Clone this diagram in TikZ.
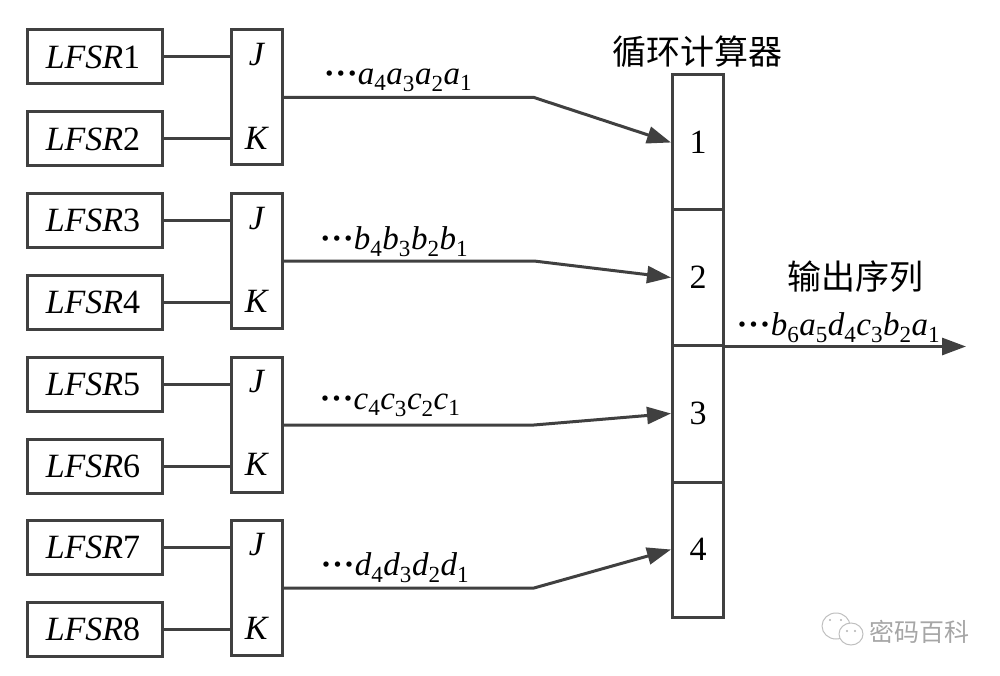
\documentclass[tikz,border=0pt]{standalone}
\usepackage{fontspec}
\setmainfont{Liberation Serif}
\newfontfamily\cjkfont{Noto Sans CJK SC}
\usetikzlibrary{positioning,arrows.meta}
\definecolor{wire}{HTML}{404040}
\newcommand{\idx}[2]{\textit{#1}\textsubscript{#2}}
\newcommand{\lfsr}[1]{\textit{LFSR}#1\kern4pt}
\newcommand{\dotsrun}{\textbf{·\kern.5pt·\kern.5pt·}}

\begin{document}
\begin{tikzpicture}[x=1pt,y=-1pt]
 \tikzset{line/.style={draw=wire,line width=3pt},
  arrow/.style={line,-{Triangle[length=24pt,width=17pt]}},
  lfsrbox/.style={line,minimum width=135pt,minimum height=54pt,inner sep=0pt,font=\fontsize{34}{38}\selectfont},
  jkbox/.style={line,minimum width=51pt,minimum height=135pt,inner sep=0pt},
  cell/.style={line,minimum width=51pt,inner sep=0pt,font=\fontsize{34}{38}\selectfont},
  lab/.style={inner sep=0pt,font=\fontsize{34}{38}\selectfont},
  seq/.style={inner sep=0pt,font=\fontsize{33}{36}\selectfont},
  cjk/.style={inner sep=0pt,font=\fontsize{34}{38}\selectfont\cjkfont}}
 \useasboundingbox (0,0) rectangle (1000,676);

 \node[lfsrbox] (L1) at (95,57) {\lfsr 1};
 \node[lfsrbox] (L2) at (95,139) {\lfsr 2};
 \node[lfsrbox] (L3) at (95,220.5) {\lfsr 3};
 \node[lfsrbox] (L4) at (95,302) {\lfsr 4};
 \node[lfsrbox] (L5) at (95,384) {\lfsr 5};
 \node[lfsrbox] (L6) at (95,466) {\lfsr 6};
 \node[lfsrbox] (L7) at (95,547) {\lfsr 7};
 \node[lfsrbox] (L8) at (95,629) {\lfsr 8};

 \node[jkbox] (JK1) at (257,97.5) {};
 \node[jkbox] (JK2) at (257,261) {};
 \node[jkbox] (JK3) at (257,425) {};
 \node[jkbox] (JK4) at (257,588) {};

 \node[lab] (J1) at (257,55) {\textit{J}};
 \node[lab] (K1) at (257,138) {\textit{K}};
 \node[lab] (J2) at (257,219) {\textit{J}};
 \node[lab] (K2) at (257,301) {\textit{K}};
 \node[lab] (J3) at (257,382) {\textit{J}};
 \node[lab] (K3) at (257,464) {\textit{K}};
 \node[lab] (J4) at (257,545) {\textit{J}};
 \node[lab] (K4) at (257,628) {\textit{K}};

 \node[cell,minimum height=135pt] (C1) at (698,142.5) {1};
 \node[cell,minimum height=135pt] (C2) at (698,277.5) {2};
 \node[cell,minimum height=137pt] (C3) at (698,413.5) {3};
 \node[cell,minimum height=135pt] (C4) at (698,549.5) {4};
 \node[cjk] (title) at (697,52) {循环计算器};

 \coordinate (B1) at (534,97.5);
 \coordinate (B2) at (534,261);
 \coordinate (B3) at (534,425);
 \coordinate (B4) at (534,588);
 \coordinate (tip) at (966,0);

 \node[seq] (S1) at (398,80) {\dotsrun\idx a4\idx a3\idx a2\idx a1};
 \node[seq] (S2) at (394,242) {\dotsrun\idx b4\idx b3\idx b2\idx b1};
 \node[seq] (S3) at (390,405) {\dotsrun\idx c4\idx c3\idx c2\idx c1};
 \node[seq] (S4) at (395,568) {\dotsrun\idx d4\idx d3\idx d2\idx d1};
 \node[cjk] (outname) at (855,277) {输出序列};
 \node[seq] (outseq) at (838.5,328) {\dotsrun\idx b6\idx a5\idx d4\idx c3\idx b2\idx a1};

 \draw[line] (L1.east) -- (L1.east -| JK1.west);
 \draw[line] (L2.east) -- (L2.east -| JK1.west);
 \draw[line] (L3.east) -- (L3.east -| JK2.west);
 \draw[line] (L4.east) -- (L4.east -| JK2.west);
 \draw[line] (L5.east) -- (L5.east -| JK3.west);
 \draw[line] (L6.east) -- (L6.east -| JK3.west);
 \draw[line] (L7.east) -- (L7.east -| JK4.west);
 \draw[line] (L8.east) -- (L8.east -| JK4.west);

 \draw[arrow] (JK1.east) -- (B1) -- (C1.west);
 \draw[arrow] (JK2.east) -- (B2) -- (C2.west);
 \draw[arrow] (JK3.east) -- (B3) -- (C3.west);
 \draw[arrow] (JK4.east) -- (B4) -- (C4.west);
 \draw[arrow] (C2.south east) -- (C2.south east -| tip);

 % watermark
 \node[inner sep=0pt,text=black!35,font=\fontsize{25}{28}\selectfont\cjkfont] (mark) at (919,632) {密码百科};
 \draw[black!25,line width=1pt] (836,626) ellipse (14pt and 13pt);
 \fill[black!30] (830,620) circle (1.2pt) (841,620) circle (1.2pt);
 \draw[black!25,line width=1pt,fill=white] (851,634) ellipse (12pt and 11pt);
 \fill[black!30] (847,631) circle (1.2pt) (855,631) circle (1.2pt);
\end{tikzpicture}
\end{document}
